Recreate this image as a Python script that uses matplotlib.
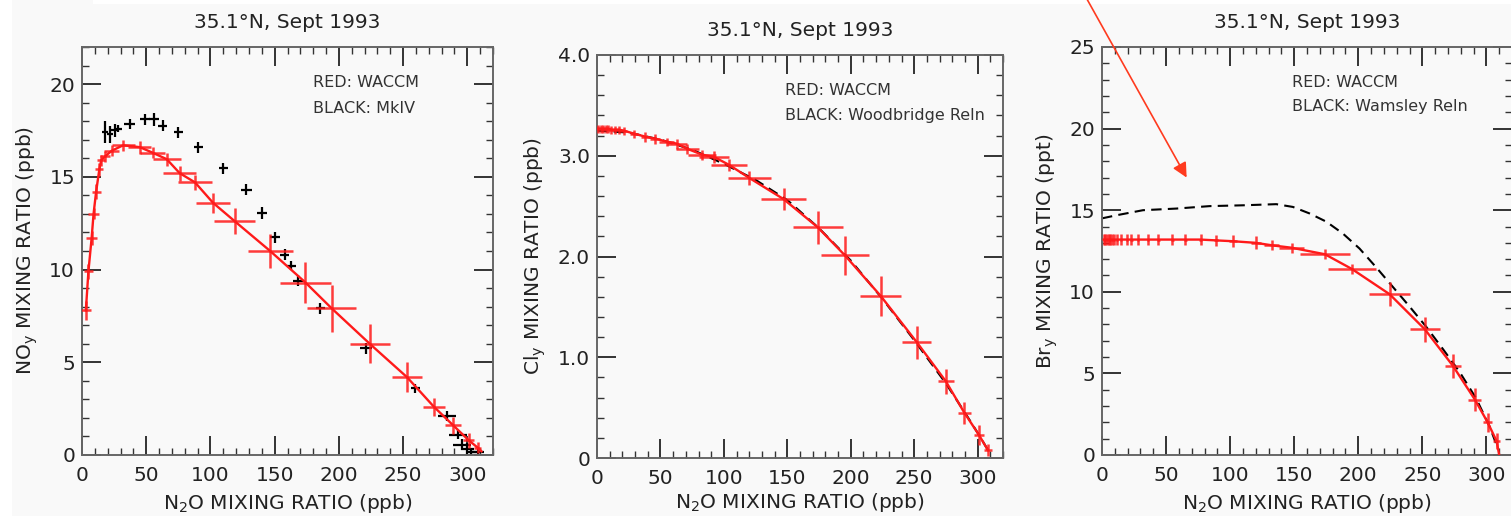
import matplotlib
matplotlib.use("Agg")
import matplotlib.pyplot as plt
from matplotlib.ticker import MultipleLocator, FuncFormatter
from matplotlib.patches import FancyArrowPatch, Rectangle

# -------------------------
# Data
# -------------------------
title = "35.1°N, Sept 1993"
xlabel = "N$_2$O MIXING RATIO (ppb)"

# NOy panel: WACCM (red) and MkIV (black)
noy_waccm_x = [3, 5, 7.5, 9, 11, 13.5, 15, 18, 23, 32, 45, 55, 66, 76, 88, 102, 119,
               146.5, 174, 194.5, 224, 253, 274, 289, 301, 308]
noy_waccm_y = [7.8, 9.9, 11.7, 13.0, 14.2, 15.4, 15.9, 16.1, 16.4, 16.7, 16.6, 16.3, 15.95,
               15.2, 14.7, 13.6, 12.6, 11.0, 9.3, 7.9, 6.0, 4.2, 2.6, 1.6, 0.8, 0.4]
noy_waccm_xerr = [4, 3.5, 4.5, 4, 3.5, 3, 3, 4, 6, 9, 9, 10, 11, 13, 13, 13, 16,
                  17.5, 20, 19, 15.5, 11.5, 8.5, 6, 4, 3]
noy_waccm_yerr = [0.5, 0.4, 0.4, 0.3, 0.4, 0.35, 0.3, 0.3, 0.3, 0.3, 0.35, 0.3, 0.35,
                  0.4, 0.4, 0.55, 0.7, 0.9, 1.1, 1.25, 1.05, 0.8, 0.5, 0.45, 0.4, 0.3]
noy_line_x = noy_waccm_x + [311]
noy_line_y = noy_waccm_y + [0.2]

mkiv_x = [18, 22, 25.5, 28, 37, 49, 56, 63, 75, 90.5, 110, 128, 140, 150.5, 158, 163,
          168.5, 185.5, 221, 259.5, 284, 293, 296, 300, 303, 308]
mkiv_y = [17.4, 17.3, 17.5, 17.6, 17.85, 18.1, 18.1, 17.75, 17.4, 16.6, 15.45, 14.3,
          13.05, 11.75, 10.8, 10.2, 9.4, 7.9, 5.75, 3.6, 2.1, 1.1, 0.55, 0.35, 0.15, 0.15]
mkiv_xerr = [2.5, 2.5, 3, 3, 4, 4, 4, 3.5, 3.5, 3.5, 3.5, 4, 4, 4, 3.5, 3.5, 4, 3.5, 4.5,
             3.5, 7, 7, 7, 5, 4, 5]
mkiv_yerr = [0.6, 0.45, 0.35, 0.2, 0.25, 0.3, 0.35, 0.3, 0.3, 0.3, 0.3, 0.3, 0.3, 0.3,
             0.3, 0.25, 0.3, 0.3, 0.3, 0.25, 0.25, 0.25, 0.3, 0.3, 0.2, 0.2]

# Cly panel: WACCM (red) and Woodbridge relation (black dashed)
cly_waccm_x = [1, 3, 5, 7, 9, 11, 14, 17, 21, 29, 38, 46, 55, 63, 71, 83, 92, 104, 120,
               147, 174, 195.5, 223.5, 252, 275, 289.5, 301, 308]
cly_waccm_y = [3.27, 3.27, 3.27, 3.27, 3.27, 3.26, 3.26, 3.26, 3.25, 3.22, 3.19, 3.17,
               3.14, 3.12, 3.07, 3.01, 2.99, 2.91, 2.78, 2.57, 2.29, 2.01, 1.61, 1.15,
               0.76, 0.45, 0.23, 0.08]
cly_waccm_xerr = [1, 1, 1.5, 1.5, 1.5, 2, 2, 2, 2.5, 3, 3.5, 4, 6, 8, 9, 11, 12, 14, 17,
                  17.5, 19.5, 19, 16, 11.5, 6.5, 5, 4, 3]
cly_waccm_yerr = [0.04, 0.04, 0.04, 0.04, 0.04, 0.04, 0.04, 0.04, 0.04, 0.04, 0.05, 0.05,
                  0.04, 0.05, 0.05, 0.05, 0.06, 0.06, 0.07, 0.11, 0.165, 0.19, 0.2, 0.165,
                  0.12, 0.11, 0.1, 0.06]
woodbridge_x = [0, 25, 50, 75, 100, 125, 150, 175, 200, 225, 250, 275, 290, 300, 310]
woodbridge_y = [3.25, 3.23, 3.16, 3.06, 2.92, 2.76, 2.56, 2.28, 1.96, 1.58, 1.17, 0.74,
                0.45, 0.25, 0.04]

# Bry panel: WACCM (red) and Wamsley relation (black dashed)
bry_waccm_x = [1.3, 2.5, 3.9, 5.2, 6.5, 8, 9.5, 11.7, 15, 19.5, 23, 28, 36, 44, 55, 65, 77,
               89, 102, 120, 132.5, 148, 174, 195, 224.5, 252, 274, 291, 301, 308]
bry_waccm_y = [13.2, 13.2, 13.2, 13.2, 13.2, 13.2, 13.2, 13.2, 13.2, 13.2, 13.2, 13.2,
               13.2, 13.2, 13.2, 13.2, 13.2, 13.15, 13.1, 13.0, 12.85, 12.7, 12.3, 11.4,
               9.85, 7.7, 5.45, 3.4, 2.0, 0.85]
bry_waccm_xerr = [0.8, 0.8, 0.8, 0.8, 0.8, 0.8, 0.8, 0.8, 0.8, 0.8, 1, 1, 1, 1, 1, 1, 1,
                  1.5, 3, 4, 6, 10, 19.5, 19, 16, 11.5, 6.5, 5, 3.5, 3]
bry_waccm_yerr = [0.35] * 18 + [0.35, 0.4, 0.3, 0.3, 0.3, 0.3, 0.75, 0.75, 0.75, 0.7,
                                0.6, 0.5]
bry_line_x = bry_waccm_x + [310]
bry_line_y = bry_waccm_y + [0.0]
wamsley_x = [0, 12, 32, 58, 84, 110, 136, 149, 162, 175, 188, 201, 214, 227, 240, 253,
             266, 279, 292, 302.6, 309]
wamsley_y = [14.5, 14.7, 15.0, 15.1, 15.25, 15.3, 15.37, 15.2, 14.8, 14.3, 13.57, 12.65,
             11.5, 10.3, 9.1, 7.86, 6.5, 5.1, 3.47, 1.73, 0.4]

# -------------------------
# Styling
# -------------------------
BG = "#f9f9f9"
TXT = "#222222"
RED = "#ff1a1a"
plt.rcParams["font.family"] = ["DejaVu Sans"]
plt.rcParams["mathtext.default"] = "regular"

W, H = 1511, 516
fig = plt.figure(figsize=(W / 100, H / 100), dpi=100, facecolor=BG)

# white strips of the screenshot
fig.patches.append(Rectangle((0, 0), 12 / W, 1, transform=fig.transFigure,
                             facecolor="white", edgecolor="none", zorder=-5))
fig.patches.append(Rectangle((93 / W, 1 - 4 / H), 1, 4 / H, transform=fig.transFigure,
                             facecolor="white", edgecolor="none", zorder=-5))


def px_axes(left, right, top, bottom):
    return fig.add_axes([left / W, 1 - bottom / H, (right - left) / W, (bottom - top) / H])


def style_axes(ax, ymax, ymajor, yminor, yfmt, ylabel, xpad=5):
    ax.set_facecolor(BG)
    ax.set_xlim(0, 320)
    ax.set_ylim(0, ymax)
    ax.xaxis.set_major_locator(MultipleLocator(50))
    ax.xaxis.set_minor_locator(MultipleLocator(10))
    ax.yaxis.set_major_locator(MultipleLocator(ymajor))
    ax.yaxis.set_minor_locator(MultipleLocator(yminor))
    ax.xaxis.set_major_formatter(FuncFormatter(lambda v, p: f"{v:.0f}" if v <= 300 else ""))
    ax.yaxis.set_major_formatter(FuncFormatter(yfmt))
    ax.tick_params(which="both", direction="in", top=True, right=True, colors="#333333",
                   labelcolor=TXT, labelsize=14.5)
    ax.tick_params(which="major", length=14, width=1.4)
    ax.tick_params(which="minor", length=5, width=1.0)
    ax.tick_params(axis="x", which="major", pad=8)
    ax.tick_params(axis="y", which="major", pad=5)
    for s in ax.spines.values():
        s.set_color("#666666")
        s.set_linewidth(1.4)
    ax.set_xlabel(xlabel, fontsize=14.5, color=TXT, labelpad=xpad)
    ax.set_ylabel(ylabel, fontsize=14.5, color=TXT, labelpad=7)
    ax.set_title(title, fontsize=14.5, color=TXT, pad=14)


def int_fmt(v, p):
    return f"{v:.0f}"


def one_dec_fmt(v, p):
    return "0" if v == 0 else f"{v:.1f}"


def waccm(ax, x, y, xerr, yerr, lx=None, ly=None):
    ax.plot(lx if lx is not None else x, ly if ly is not None else y,
            color=RED, lw=1.7, zorder=3)
    ax.errorbar(x, y, xerr=xerr, yerr=yerr, fmt="none", ecolor=RED, elinewidth=1.8,
                alpha=0.85, capsize=0, zorder=3)


def legend_text(ax, x, y1, y2, second):
    ax.text(x, y1, "RED: WACCM", transform=ax.transAxes, fontsize=11.5, color="#333333",
            va="center", ha="left")
    ax.text(x, y2, second, transform=ax.transAxes, fontsize=11.5, color="#333333",
            va="center", ha="left")


# Panel 1: NOy
ax1 = px_axes(82, 493, 47, 455)
style_axes(ax1, 22, 5, 1, int_fmt, "NO$_y$ MIXING RATIO (ppb)")
ax1.errorbar(mkiv_x, mkiv_y, xerr=mkiv_xerr, yerr=mkiv_yerr, fmt="none", ecolor="black",
             elinewidth=1.6, capsize=0, zorder=2)
waccm(ax1, noy_waccm_x, noy_waccm_y, noy_waccm_xerr, noy_waccm_yerr, noy_line_x, noy_line_y)
legend_text(ax1, 0.562, 0.914, 0.850, "BLACK: MkIV")

# Panel 2: Cly
ax2 = px_axes(597, 1003, 55, 458)
style_axes(ax2, 4.0, 1.0, 0.2, one_dec_fmt, "Cl$_y$ MIXING RATIO (ppb)", xpad=2)
ax2.plot(woodbridge_x, woodbridge_y, color="black", lw=1.5, ls=(0, (5, 3)), zorder=2)
waccm(ax2, cly_waccm_x, cly_waccm_y, cly_waccm_xerr, cly_waccm_yerr)
legend_text(ax2, 0.463, 0.913, 0.851, "BLACK: Woodbridge Reln")

# Panel 3: Bry
ax3 = px_axes(1102, 1512, 47, 455)
style_axes(ax3, 25, 5, 1, int_fmt, "Br$_y$ MIXING RATIO (ppt)")
ax3.plot(wamsley_x, wamsley_y, color="black", lw=1.5, ls=(0, (5, 3)), zorder=2)
waccm(ax3, bry_waccm_x, bry_waccm_y, bry_waccm_xerr, bry_waccm_yerr, bry_line_x, bry_line_y)
legend_text(ax3, 0.463, 0.914, 0.853, "BLACK: Wamsley Reln")

# red annotation arrow pointing at the Wamsley curve
arrow = FancyArrowPatch((1083 / W, 1 + 8 / H), (1188 / W, 1 - 180 / H),
                        transform=fig.transFigure, arrowstyle="-|>", mutation_scale=22,
                        color="#ff3b1f", lw=1.2, zorder=10)
fig.add_artist(arrow)

fig.savefig("out.png", dpi=100, facecolor=BG)
